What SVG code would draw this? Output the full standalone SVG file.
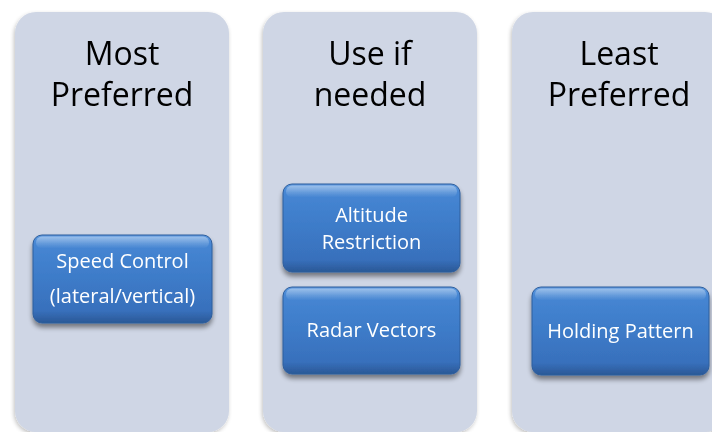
<svg xmlns="http://www.w3.org/2000/svg" width="712" height="432" viewBox="0 0 712 432">
  <defs>
    <filter id="colShadow" x="-10%" y="-10%" width="120%" height="120%">
      <feGaussianBlur in="SourceAlpha" stdDeviation="2"/>
      <feOffset dx="-1" dy="2" result="b"/>
      <feComponentTransfer><feFuncA type="linear" slope="0.25"/></feComponentTransfer>
      <feMerge><feMergeNode/><feMergeNode in="SourceGraphic"/></feMerge>
    </filter>
    <filter id="btnShadow" x="-10%" y="-15%" width="120%" height="140%">
      <feGaussianBlur in="SourceAlpha" stdDeviation="2.5"/>
      <feOffset dx="0" dy="4" result="b"/>
      <feComponentTransfer><feFuncA type="linear" slope="0.45"/></feComponentTransfer>
      <feMerge><feMergeNode/><feMergeNode in="SourceGraphic"/></feMerge>
    </filter>
    <linearGradient id="btnFill" x1="0" y1="0" x2="0" y2="1">
      <stop offset="0" stop-color="#5C98DF"/>
      <stop offset="0.1" stop-color="#4686D3"/>
      <stop offset="0.5" stop-color="#3D7BC8"/>
      <stop offset="0.86" stop-color="#3870BC"/>
      <stop offset="1" stop-color="#2A5896"/>
    </linearGradient>
    <linearGradient id="gloss" x1="0" y1="0" x2="0" y2="1">
      <stop offset="0" stop-color="#FFFFFF" stop-opacity="0.4"/>
      <stop offset="1" stop-color="#FFFFFF" stop-opacity="0"/>
    </linearGradient>
  </defs>
  <style>
    .col { fill: #CFD6E5; }
    .title { font-family: "Open Sans", "Noto Sans", sans-serif; font-size: 32px; fill: #000000; text-anchor: middle; }
    .btn { fill: url(#btnFill); stroke: #2E5E9C; stroke-width: 1; }
    .gl { fill: url(#gloss); }
    .lbl { font-family: "Open Sans", "Noto Sans", sans-serif; font-size: 20px; fill: #FFFFFF; text-anchor: middle; }
  </style>
  <rect width="712" height="432" fill="#FFFFFF"/>

  <g id="col-most" filter="url(#colShadow)">
    <rect class="col" x="15" y="12" width="214" height="420" rx="21"/>
    <text class="title" x="122" y="65">Most</text>
    <text class="title" x="122" y="106">Preferred</text>
  </g>
  <g id="col-use" filter="url(#colShadow)">
    <rect class="col" x="263" y="12" width="214" height="420" rx="21"/>
    <text class="title" x="370" y="65">Use if</text>
    <text class="title" x="370" y="106">needed</text>
  </g>
  <g id="col-least" filter="url(#colShadow)">
    <rect class="col" x="512" y="12" width="214" height="420" rx="21"/>
    <text class="title" x="619" y="65">Least</text>
    <text class="title" x="619" y="106">Preferred</text>
  </g>

  <g id="speed-control" filter="url(#btnShadow)">
    <rect class="btn" x="33" y="235" width="179" height="88" rx="9"/>
    <rect class="gl" x="36" y="236.5" width="173" height="12" rx="6"/>
    <text class="lbl" x="122.5" y="268">Speed Control</text>
    <text class="lbl" x="122.5" y="303">(lateral/vertical)</text>
  </g>
  <g id="altitude-restriction" filter="url(#btnShadow)">
    <rect class="btn" x="283" y="184" width="177" height="88" rx="9"/>
    <rect class="gl" x="286" y="185.5" width="171" height="12" rx="6"/>
    <text class="lbl" x="371.5" y="221.5">Altitude</text>
    <text class="lbl" x="371.5" y="249">Restriction</text>
  </g>
  <g id="radar-vectors" filter="url(#btnShadow)">
    <rect class="btn" x="283" y="287" width="177" height="87" rx="9"/>
    <rect class="gl" x="286" y="288.5" width="171" height="12" rx="6"/>
    <text class="lbl" x="371.5" y="337">Radar Vectors</text>
  </g>
  <g id="holding-pattern" filter="url(#btnShadow)">
    <rect class="btn" x="532" y="287" width="177" height="88" rx="9"/>
    <rect class="gl" x="535" y="288.5" width="171" height="12" rx="6"/>
    <text class="lbl" x="620.5" y="338">Holding Pattern</text>
  </g>

  <g id="connectors"></g>
</svg>
